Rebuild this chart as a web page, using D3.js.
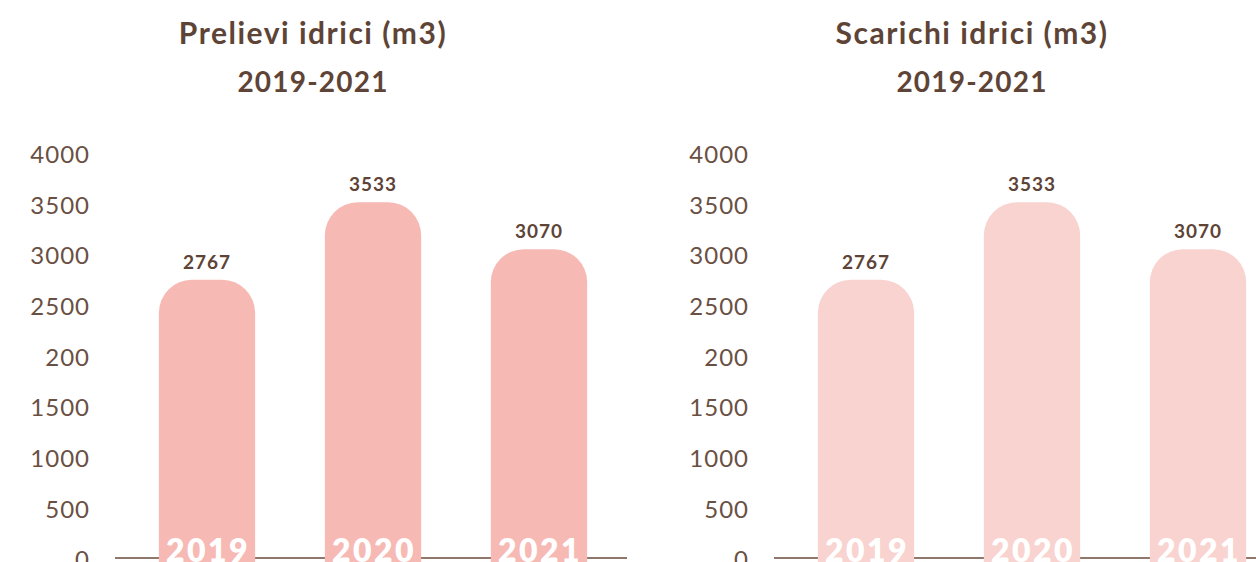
<!DOCTYPE html>
<html>
<head>
<meta charset="utf-8">
<script src="https://cdn.jsdelivr.net/npm/d3@7"></script>
<style>
  html, body { margin: 0; padding: 0; background: #ffffff; }
  svg { display: block; }
</style>
</head>
<body>
<svg id="chart" width="1256" height="562"></svg>
<script>
// Water withdrawals and discharges, 2019-2021
const years = ["2019", "2020", "2021"];
const prelievi = [2767, 3533, 3070];
const scarichi = [2767, 3533, 3070];
const tickValues = [0, 500, 1000, 1500, 2000, 2500, 3000, 3500, 4000];
const tickLabels = ["0", "500", "1000", "1500", "200", "2500", "3000", "3500", "4000"];
const panelTitles = ["Prelievi idrici (m3)", "Scarichi idrici (m3)"];
const panelSubtitle = "2019-2021";

const brown = "#5e4436";
const font = "Lato, 'Open Sans', sans-serif";

const svg = d3.select("#chart");

const y = d3.scaleLinear().domain([0, 4000]).range([560, 155]);

function topRoundedBar(x0, w, yTop, yBottom, r) {
  const rr = Math.min(r, w / 2, yBottom - yTop);
  return `M${x0},${yBottom}V${yTop + rr}` +
    `A${rr},${rr} 0 0 1 ${x0 + rr},${yTop}` +
    `H${x0 + w - rr}` +
    `A${rr},${rr} 0 0 1 ${x0 + w},${yTop + rr}` +
    `V${yBottom}Z`;
}

function drawPanel(offset, title, values, fill) {
  const g = svg.append("g").attr("transform", `translate(${offset},0)`);

  const x = d3.scaleBand().domain(years).range([124, 622])
    .paddingInner(0.42).paddingOuter(0.21);

  // titles
  g.append("text").attr("x", 313).attr("y", 44)
    .attr("text-anchor", "middle").attr("fill", brown)
    .style("font-family", font).style("font-weight", 700).style("font-size", "30px")
    .style("letter-spacing", "1.5px")
    .text(title);
  g.append("text").attr("x", 313).attr("y", 92)
    .attr("text-anchor", "middle").attr("fill", brown)
    .style("font-family", font).style("font-weight", 700).style("font-size", "28px")
    .style("letter-spacing", "1.2px")
    .text(panelSubtitle);

  // y axis labels
  const yAxis = d3.axisLeft(y).tickValues(tickValues)
    .tickFormat((d, i) => tickLabels[i]).tickSize(0).tickPadding(0);
  const ya = g.append("g").attr("transform", "translate(90,0)").call(yAxis);
  ya.select(".domain").remove();
  ya.selectAll("text").attr("fill", "#6a5043")
    .style("font-family", font).style("font-size", "24px").style("font-weight", 400)
    .style("letter-spacing", "1px");

  // baseline
  g.append("line").attr("x1", 115).attr("x2", 627)
    .attr("y1", 558).attr("y2", 558)
    .attr("stroke", "#6b4a3a").attr("stroke-width", 1.5);

  // bars
  g.selectAll("path.bar").data(values).enter().append("path")
    .attr("class", "bar").attr("fill", fill)
    .attr("d", (d, i) => topRoundedBar(x(years[i]), x.bandwidth(), y(d), 562, 33));

  // value labels
  g.selectAll("text.val").data(values).enter().append("text")
    .attr("class", "val")
    .attr("x", (d, i) => x(years[i]) + x.bandwidth() / 2)
    .attr("y", d => y(d) - 11)
    .attr("text-anchor", "middle").attr("fill", brown)
    .style("font-family", font).style("font-weight", 700).style("font-size", "19px")
    .style("letter-spacing", "1px")
    .text(d => d);

  // year labels inside bars
  g.selectAll("text.year").data(years).enter().append("text")
    .attr("class", "year")
    .attr("x", d => x(d) + x.bandwidth() / 2 + 1)
    .attr("y", 562)
    .attr("text-anchor", "middle").attr("fill", "#ffffff")
    .style("font-family", font).style("font-weight", 800).style("font-size", "32px")
    .style("letter-spacing", "2.5px")
    .text(d => d);
}

drawPanel(0, panelTitles[0], prelievi, "#f6b9b4");
drawPanel(659, panelTitles[1], scarichi, "#f9d3cf");
</script>
</body>
</html>
